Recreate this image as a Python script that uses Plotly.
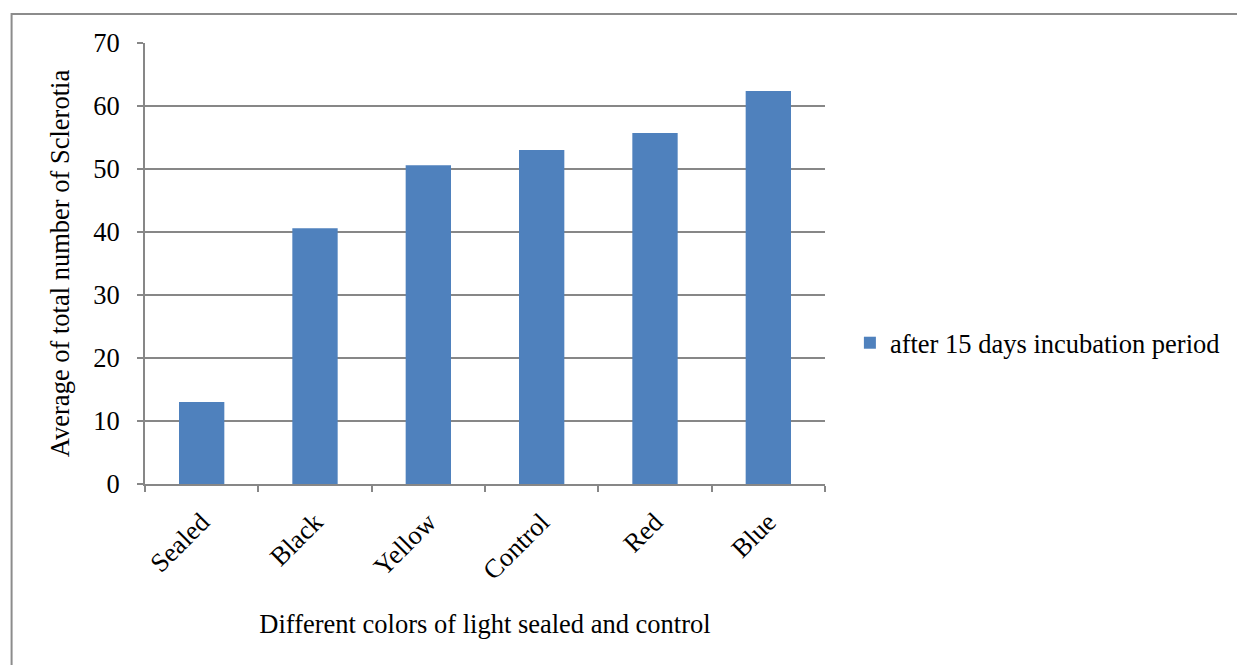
import plotly.graph_objects as go

categories = ["Sealed", "Black", "Yellow", "Control", "Red", "Blue"]
sclerotia_avg = [13.0, 40.6, 50.6, 53.0, 55.7, 62.4]
series_name = "after 15 days incubation period"
y_ticks = [0, 10, 20, 30, 40, 50, 60, 70]

W, H = 1237, 665
L, R, T, B = 145, 828, 43, 484
grid_col = "#878787"
font = dict(family="Liberation Serif, Times New Roman, serif", size=26.5, color="#000000")

fig = go.Figure()
fig.add_trace(go.Bar(
    x=categories, y=sclerotia_avg, name=series_name,
    marker=dict(color="#4F81BD", line=dict(width=0)),
    width=0.4, showlegend=True,
))

def px_to_paper_x(px):
    return (px - L) / (R - L)

def px_to_paper_y(py):
    return (B - py) / (B - T)

fig.update_layout(
    width=W, height=H, autosize=False,
    margin=dict(l=L, r=W - R, t=T, b=H - B, pad=0),
    paper_bgcolor="white", plot_bgcolor="white",
    font=font,
    showlegend=True,
    legend=dict(
        x=px_to_paper_x(853), y=px_to_paper_y(343),
        xanchor="left", yanchor="middle",
        font=font, bgcolor="rgba(0,0,0,0)",
        itemwidth=30,
    ),
    xaxis=dict(
        showgrid=False, showline=True, linecolor=grid_col, linewidth=2,
        ticks="outside", ticklen=6, tickcolor=grid_col, tickwidth=2,
        tickson="boundaries", tickangle=-45, tickfont=font,
        ticklabelstandoff=10,
        title=dict(text="Different colors of light sealed and control",
                   font=font, standoff=30),
    ),
    yaxis=dict(
        range=[0, 70], tickvals=y_ticks, ticktext=[str(v) for v in y_ticks],
        showgrid=True, gridcolor=grid_col, gridwidth=2,
        zeroline=False, showline=True, linecolor=grid_col, linewidth=2,
        ticks="outside", ticklen=6, tickcolor=grid_col, tickwidth=2,
        tickfont=font, ticklabelstandoff=12,
        title=dict(text="Average of total number of Sclerotia", font=font, standoff=16),
    ),
    shapes=[dict(
        type="rect", xref="paper", yref="paper",
        x0=px_to_paper_x(11), x1=px_to_paper_x(W + 20),
        y0=px_to_paper_y(H + 20), y1=px_to_paper_y(14),
        line=dict(color="#8c8c8c", width=2), fillcolor="rgba(0,0,0,0)",
        layer="below",
    )],
)

fig.write_html("out.html")
